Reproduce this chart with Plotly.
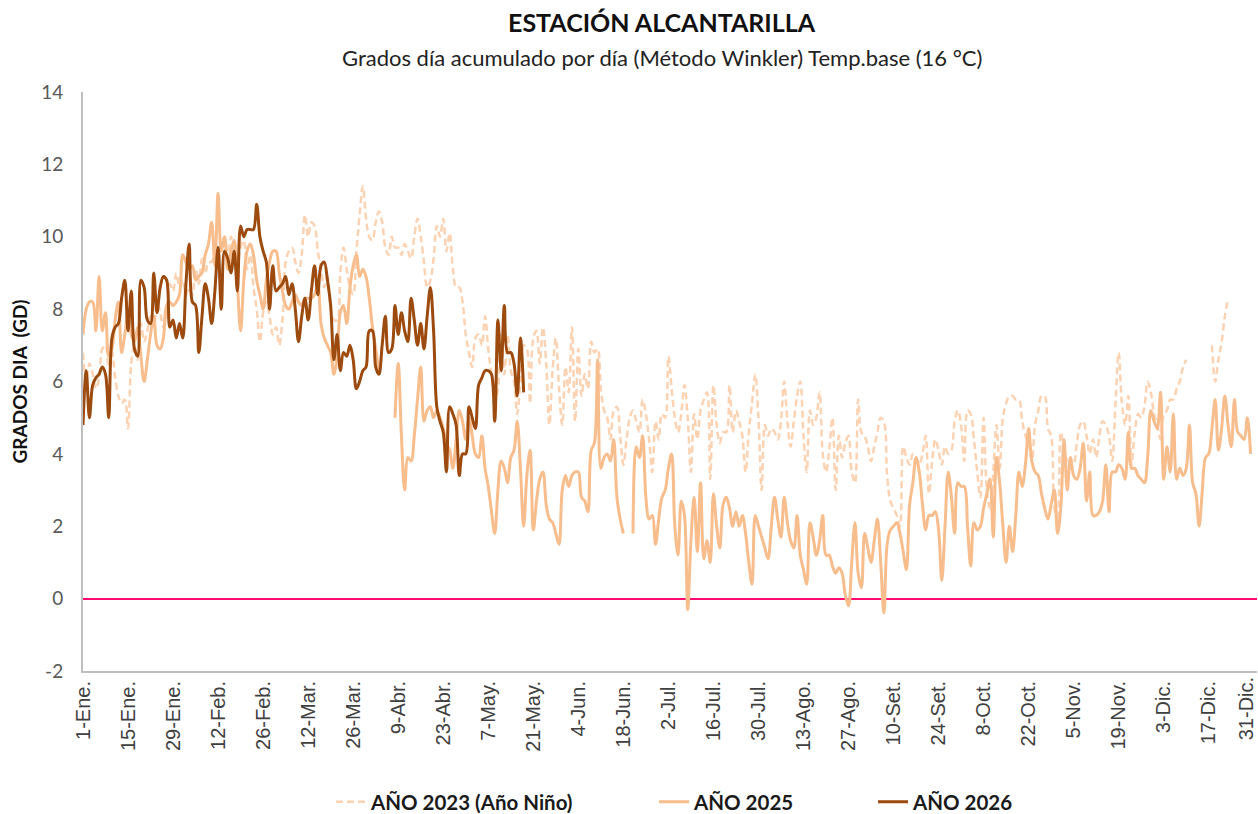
import plotly.graph_objects as go

# ---------------- data ----------------
tick_labels = ["1-Ene.", "15-Ene.", "29-Ene.", "12-Feb.", "26-Feb.", "12-Mar.", "26-Mar.",
               "9-Abr.", "23-Abr.", "7-May.", "21-May.", "4-Jun.", "18-Jun.", "2-Jul.",
               "16-Jul.", "30-Jul.", "13-Ago.", "27-Ago.", "10-Set.", "24-Set.", "8-Oct.",
               "22-Oct.", "5-Nov.", "19-Nov.", "3-Dic.", "17-Dic.", "31-Dic."]
tick_days = [0, 14, 28, 42, 56, 70, 84, 98, 112, 126, 140, 154, 168, 182, 196, 210,
             224, 238, 252, 266, 280, 294, 308, 322, 336, 350, 364]
y_tick_vals = [-2, 0, 2, 4, 6, 8, 10, 12, 14]
y_tick_text = ["-2", "0", "2", "4", "6", "8", "10", "12", "14"]

N = None
gd_2023 = [
    6.8, 6.0, 6.5, 6.2, 5.8, 6.1, 6.9, 7.0, 6.4, 6.8,
    6.1, 5.6, 5.4, 5.5, 4.7, 6.5, 7.0, 6.6, 7.6, 7.1,
    7.4, 7.8, 7.5, 8.2, 7.9, 7.5, 7.9, 8.7, 8.5, 9.0,
    8.6, 8.8, 8.4, 8.6, 8.4, 9.1, 8.7, 9.4, 9.0, 9.3,
    9.3, 9.6, 9.2, 9.7, 10.0, 9.4, 10.0, 9.6, 9.3, 9.7,
    9.9, 9.1, 9.5, 8.6, 8.0, 7.1, 7.9, 8.2, 7.8, 7.3,
    7.5, 7.0, 7.7, 9.3, 9.6, 9.7, 9.3, 9.0, 9.5, 10.6,
    10.0, 10.4, 10.3, 9.6, 9.1, 8.6, 8.9, 8.0, 7.7, 7.7,
    9.0, 9.7, 9.1, 8.6, 8.4, 9.6, 10.6, 11.4, 10.5, 10.0,
    9.9, 10.4, 10.7, 10.4, 9.7, 9.5, 10.0, 9.7, 9.7, 9.5,
    9.8, 9.6, 9.4, 10.0, 10.5, 10.0, 9.3, 8.6, 8.8, 9.4,
    10.3, 10.0, 10.5, 9.6, 10.1, 9.1, 8.6, 8.6, 8.2, 7.3,
    6.8, 6.4, 7.2, 7.3, 7.0, 7.8, 6.9, 6.2, 5.4, 5.8,
    7.3, 6.2, 7.3, 6.3, 6.0, 5.1, 6.0, 7.0, 6.9, 5.4,
    7.2, 7.4, 6.5, 7.5, 6.5, 4.8, 6.3, 7.2, 5.8, 4.8,
    6.4, 5.7, 7.5, 4.9, 6.9, 5.6, 6.2, 5.8, 7.1, 6.8,
    6.9, 5.8, 5.2, 5.0, 4.4, 5.2, 5.3, 4.5, 3.7, 4.4,
    5.0, 5.2, 4.9, 4.6, 5.5, 5.1, 4.4, 3.5, 4.9, 4.4,
    5.1, 5.0, 6.7, 5.8, 5.0, 4.6, 5.1, 5.9, 5.0, 3.5,
    5.1, 4.4, 5.2, 5.5, 5.7, 3.3, 5.9, 4.8, 4.3, 4.6,
    4.6, 5.9, 4.6, 5.2, 4.9, 4.5, 3.5, 4.6, 5.4, 6.2,
    5.0, 3.0, 4.8, 4.5, 4.7, 4.6, 4.4, 4.9, 6.0, 4.9,
    4.2, 4.9, 5.6, 6.0, 4.5, 3.5, 5.2, 4.8, 5.0, 5.7,
    4.0, 3.5, 4.1, 5.0, 3.0, 4.5, 3.9, 4.3, 4.5, 3.5,
    3.2, 5.5, 4.6, 4.5, 4.2, 3.8, 4.2, 4.6, 5.0, 4.9,
    3.4, 2.7, 2.5, 2.3, 2.0, 4.2, 3.9, 3.7, 4.0, 3.9,
    3.7, 4.0, 4.5, 2.9, 3.8, 4.4, 4.1, 3.7, 4.2, 4.0,
    4.1, 4.9, 5.2, 4.8, 3.8, 5.2, 5.1, 4.4, 3.5, 2.8,
    5.0, 3.0, 2.5, 3.5, 4.8, 3.6, 5.0, 5.4, 5.6, 5.6,
    5.5, 5.5, 4.9, 4.5, 4.3, 3.8, 4.8, 5.2, 5.6, 5.6,
    4.7, 4.5, 2.5, 2.1, 4.6, 4.1, 3.8, 3.6, 3.7, 4.3,
    4.8, 4.9, 4.5, 4.0, 4.4, 3.9, 4.5, 4.9, 4.8, 4.5,
    3.8, 5.4, 6.8, 5.4, 4.8, 5.6, 3.7, 4.6, 5.1, 5.0,
    5.3, 6.0, 5.7, 5.1, 4.8, 4.4, 5.1, 5.2, 5.5, 5.5,
    5.8, 6.0, 6.4, 6.6, N, N, N, N, N, N,
    N, 7.0, 6.0, 6.6, 7.1, 7.8, 8.3,
]

gd_2025 = [
    7.3, 8.0, 8.2, 8.2, 7.4, 8.9, 7.4, 7.9, 6.7, 6.9,
    7.7, 8.2, 6.8, 7.3, 7.9, 7.3, 7.1, 7.5, 6.7, 6.0,
    6.6, 7.3, 7.8, 7.0, 6.9, 7.2, 8.1, 8.2, 8.1, 8.2,
    8.4, 9.5, 9.3, 9.1, 9.2, 8.8, 8.9, 9.0, 9.5, 9.8,
    10.4, 9.2, 11.2, 9.6, 10.0, 9.1, 9.6, 9.9, 8.7, 7.4,
    8.8, 9.6, 9.8, 9.5, 8.8, 8.4, 8.0, 8.8, 9.3, 9.6,
    9.6, 9.0, 8.5, 8.1, 8.0, 8.2, 8.4, 8.2, 8.1, 8.3,
    8.3, 8.3, 8.4, 8.7, 7.6, 7.2, 7.0, 6.8, 6.2, 6.7,
    7.9, 8.1, 7.6, 8.6, 9.2, 9.5, 8.9, 9.1, 8.9, 8.3,
    7.5, 6.9, 6.3, N, N, N, N, 5.0, 6.5, 4.5,
    3.0, 3.9, 3.8, 4.5, 5.5, 6.4, 4.9, 5.2, 5.3, 5.0,
    5.2, 5.0, 4.7, 4.3, 4.1, 3.6, 4.4, 5.2, 4.9, 4.4,
    5.0, 4.5, 4.0, 3.9, 4.5, 3.6, 3.1, 2.4, 1.8, 3.0,
    3.8, 3.6, 3.2, 3.9, 4.1, 4.9, 3.6, 2.0, 3.4, 4.1,
    1.9, 2.7, 3.3, 3.5, 2.6, 2.2, 2.1, 1.8, 1.5, 3.0,
    3.4, 3.1, 3.4, 3.5, 3.5, 2.8, 2.7, 2.4, 4.1, 4.3,
    6.6, 3.6, 3.9, 4.0, 3.8, 4.4, 2.8, 2.2, 1.8, N,
    N, 1.8, 4.2, 3.9, 4.5, 2.8, 2.2, 2.3, 1.5, 2.2,
    2.8, 3.0, 3.6, 4.0, 2.0, 1.2, 2.7, 2.3, -0.3, 1.6,
    2.8, 1.3, 3.2, 1.1, 1.6, 1.0, 2.9, 2.0, 1.4, 2.6,
    2.8, 2.5, 2.0, 2.4, 2.0, 2.3, 1.8, 1.0, 0.4, 2.3,
    2.0, 1.7, 1.4, 1.1, 2.0, 2.8, 2.2, 1.7, 2.8, 2.1,
    1.6, 1.4, 2.3, 1.2, 0.8, 0.4, 2.1, 1.7, 1.2, 1.6,
    2.3, 1.2, 1.2, 0.9, 0.7, 0.85, 0.7, 0.1, -0.2, 1.0,
    2.1, 0.7, 0.3, 1.8, 1.4, 1.0, 1.6, 2.2, 1.0, -0.4,
    1.5, 1.9, 2.0, 2.1, 1.8, 1.3, 0.8, 2.6, 3.2, 3.9,
    3.5, 2.6, 1.9, 2.3, 2.3, 2.4, 1.9, 0.5, 2.0, 3.5,
    2.8, 1.8, 3.2, 3.1, 3.1, 2.0, 0.9, 2.1, 1.9, 2.0,
    2.5, 2.9, 3.3, 1.7, 3.9, 3.2, 2.0, 1.0, 2.0, 1.3,
    2.3, 3.5, 3.1, 3.7, 4.7, 3.8, 3.5, 3.4, 2.9, 2.5,
    2.2, 2.6, 3.0, 1.8, 2.5, 4.4, 3.0, 3.9, 3.4, 3.3,
    3.6, 4.3, 2.7, 3.5, 2.3, 2.3, 2.4, 2.7, 3.7, 2.4,
    3.5, 3.5, 3.7, 3.6, 3.3, 4.6, 3.6, 3.6, 3.4, 3.3,
    3.2, 3.9, 5.2, 4.9, 4.7, 5.7, 3.3, 4.2, 3.5, 5.1,
    3.3, 3.6, 3.4, 3.6, 4.8, 3.2, 2.9, 2.0, 3.0, 3.9,
    4.0, 4.7, 5.5, 4.1, 4.7, 5.6, 4.8, 4.2, 5.5, 4.6,
    4.5, 4.4, 5.0, 4.0,
]

gd_2026 = [
    4.8, 6.3, 5.0, 5.9, 6.1, 6.2, 6.4, 6.2, 5.0, 7.2,
    7.5, 7.6, 8.3, 8.8, 7.4, 8.5, 6.9, 6.7, 8.8, 8.6,
    7.7, 7.6, 9.0, 7.9, 8.6, 8.9, 8.8, 7.5, 7.7, 7.2,
    7.6, 7.2, 8.7, 9.8, 8.2, 8.1, 6.8, 7.8, 8.7, 8.3,
    7.6, 8.5, 9.7, 8.0, 9.6, 9.4, 9.0, 9.6, 8.5, 10.3,
    10.0, 10.2, 10.2, 10.2, 10.9, 10.0, 9.6, 9.3, 8.0, 9.2,
    8.5, 8.6, 8.7, 8.9, 8.4, 8.7, 8.0, 7.1, 7.8, 8.3,
    7.7, 8.5, 9.2, 8.4, 9.2, 9.3, 8.8, 8.1, 6.6, 7.3,
    6.3, 6.8, 6.7, 7.0, 6.6, 5.8, 6.0, 6.3, 6.4, 7.4,
    7.4, 6.4, 6.2, 7.0, 7.8, 6.8, 6.9, 8.1, 7.3, 7.9,
    7.4, 7.1, 8.3, 7.7, 7.0, 7.6, 6.9, 7.8, 8.6, 7.4,
    5.3, 4.9, 4.6, 3.5, 5.3, 5.1, 4.8, 3.4, 4.0, 4.0,
    5.3, 5.0, 4.7, 5.9, 6.1, 6.3, 6.3, 6.2, 4.9, 7.7,
    6.3, 8.1, 6.8, 6.8, 6.5, 5.6, 7.2, 5.7,
]

series_names = ["AÑO 2023 (Año Niño)", "AÑO 2025", "AÑO 2026"]

# ---------------- figure ----------------
FONT = "Lato"
TICK_FONT = dict(family="Liberation Sans", size=20, color="#404040")
fig = go.Figure()

fig.add_trace(go.Scatter(
    x=list(range(len(gd_2023))), y=gd_2023, name=series_names[0], mode="lines",
    line=dict(color="#FBD2B2", width=2.5, dash="7px,4px", shape="spline", smoothing=1.0),
    connectgaps=False, legend="legend"))
fig.add_trace(go.Scatter(
    x=list(range(len(gd_2025))), y=gd_2025, name=series_names[1], mode="lines",
    line=dict(color="#F8BD8C", width=3, shape="spline", smoothing=1.0),
    connectgaps=False, legend="legend2"))
fig.add_trace(go.Scatter(
    x=list(range(len(gd_2026))), y=gd_2026, name=series_names[2], mode="lines",
    line=dict(color="#9C4A0E", width=3, shape="spline", smoothing=1.0),
    connectgaps=False, legend="legend3"))

leg_font = dict(family=FONT, size=20.5, color="#1a1a1a", weight="bold")
leg_common = dict(orientation="h", y=-0.226, yanchor="middle", xanchor="left",
                  font=leg_font, bgcolor="rgba(0,0,0,0)")

# all tick labels but the last go on the axis; the last one (at the very right edge)
# is drawn as an annotation nudged inward so that it is not clipped by the page edge
axis_ticktext = tick_labels[:-1] + [""]

fig.update_layout(
    width=1258, height=814,
    margin=dict(l=83, r=1, t=92, b=143, autoexpand=False),
    paper_bgcolor="white", plot_bgcolor="white",
    font=dict(family=FONT, color="#404040"),
    showlegend=True,
    legend=dict(x=0.2112, **leg_common),
    legend2=dict(x=0.4864, **leg_common),
    legend3=dict(x=0.6729, **leg_common),
    xaxis=dict(range=[0, 365], tickmode="array", tickvals=tick_days, ticktext=axis_ticktext,
               tickangle=-90, showgrid=False, zeroline=False, showline=True,
               linecolor="#BFBFBF", linewidth=2, ticks="", automargin=False,
               tickfont=TICK_FONT),
    yaxis=dict(range=[-2, 14], tickmode="array", tickvals=y_tick_vals, ticktext=y_tick_text,
               showgrid=False, zeroline=True, automargin=False,
               zerolinecolor="#FF0A74", zerolinewidth=1.5, showline=True,
               linecolor="#BFBFBF", linewidth=2, ticks="", ticklabelstandoff=14,
               tickfont=dict(family=FONT, size=19, color="#595959")),
    annotations=[
        dict(text="<b>ESTACIÓN ALCANTARILLA</b>", xref="paper", yref="paper",
             x=0.493, y=1.121, xanchor="center", yanchor="middle", showarrow=False,
             font=dict(family=FONT, size=25, color="#111111")),
        dict(text="Grados día acumulado por día (Método Winkler) Temp.base (16 °C)",
             xref="paper", yref="paper", x=0.493, y=1.0604, xanchor="center",
             yanchor="middle", showarrow=False,
             font=dict(family=FONT, size=22, color="#222222")),
        dict(text="<b>GRADOS DIA\u00a0\u00a0(GD)</b>", xref="paper", yref="paper",
             x=-0.0537, y=0.5, xanchor="center", yanchor="middle", textangle=-90,
             showarrow=False, font=dict(family=FONT, size=19, color="#111111")),
        dict(text=tick_labels[-1], xref="x", yref="paper", x=tick_days[-1], y=0,
             xanchor="center", yanchor="top", xshift=-8, yshift=-4, textangle=-90,
             showarrow=False, font=TICK_FONT),
    ],
)

fig.write_html("out.html", config={"displayModeBar": False},
               post_script="document.body.style.margin='0';document.body.style.overflow='hidden';")
